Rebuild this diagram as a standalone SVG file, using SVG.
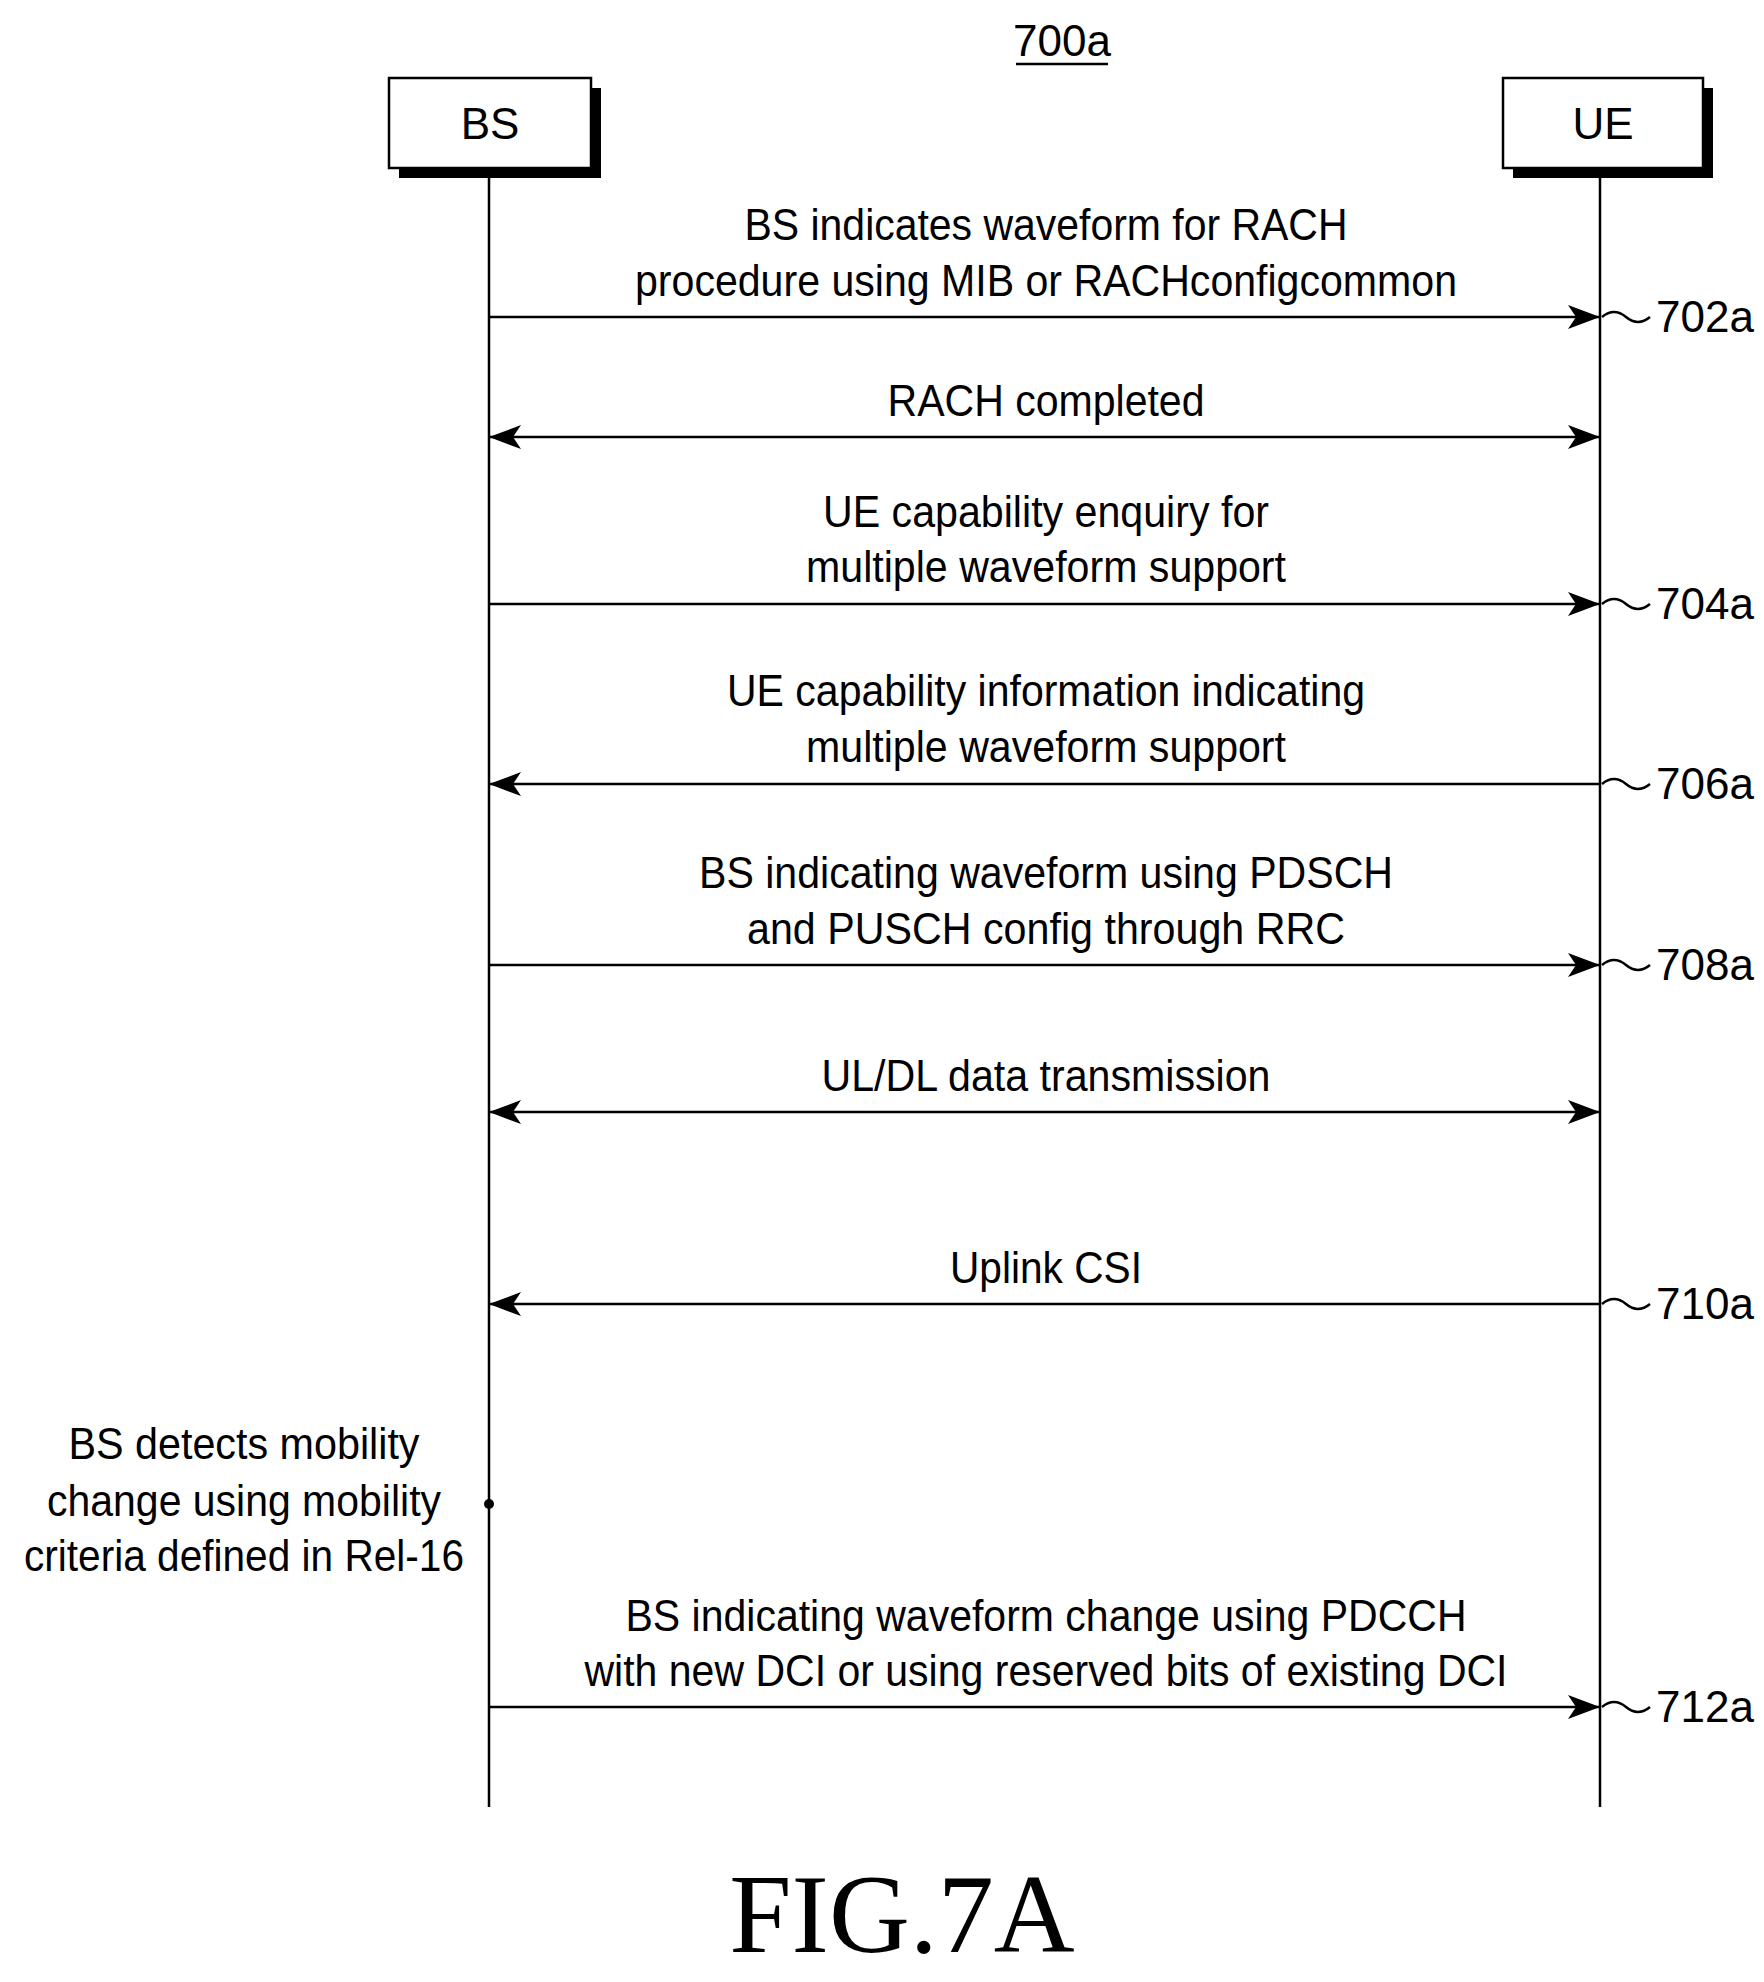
<svg xmlns="http://www.w3.org/2000/svg" width="1764" height="1982" viewBox="0 0 1764 1982">
<style>
text{font-family:"Liberation Sans",Arial,sans-serif;font-size:44px;fill:#000}
.m{text-anchor:middle}
.ln{stroke:#000;stroke-width:2.5;fill:none}
.box{fill:#fff;stroke:#000;stroke-width:2.5}
.sh{fill:#000}
</style>
<defs>
<marker id="ah" markerWidth="34" markerHeight="24" refX="32" refY="12" orient="auto-start-reverse" markerUnits="userSpaceOnUse">
<path d="M0,0 L32,12 L0,24 L8,12 Z" fill="#000"/>
</marker>
</defs>
<rect width="1764" height="1982" fill="#fff"/>
<g id="title">
<text class="m" x="1062" y="56">700a</text>
<line class="ln" x1="1016" y1="64" x2="1108" y2="64"/>
</g>
<g id="BS">
<rect class="sh" x="399" y="88" width="202" height="90"/>
<rect class="box" x="389" y="78" width="202" height="90"/>
<text class="m" x="490" y="139">BS</text>
<line class="ln" x1="489" y1="168" x2="489" y2="1807"/>
</g>
<g id="UE">
<rect class="sh" x="1513" y="88" width="200" height="90"/>
<rect class="box" x="1503" y="78" width="200" height="90"/>
<text class="m" x="1603" y="139">UE</text>
<line class="ln" x1="1600" y1="168" x2="1600" y2="1807"/>
</g>
<g id="connectors">
<line class="ln" x1="489" y1="317" x2="1600" y2="317" marker-end="url(#ah)"/>
<line class="ln" x1="489" y1="437" x2="1600" y2="437" marker-start="url(#ah)" marker-end="url(#ah)"/>
<line class="ln" x1="489" y1="604" x2="1600" y2="604" marker-end="url(#ah)"/>
<line class="ln" x1="1600" y1="784" x2="489" y2="784" marker-end="url(#ah)"/>
<line class="ln" x1="489" y1="965" x2="1600" y2="965" marker-end="url(#ah)"/>
<line class="ln" x1="489" y1="1112" x2="1600" y2="1112" marker-start="url(#ah)" marker-end="url(#ah)"/>
<line class="ln" x1="1600" y1="1304" x2="489" y2="1304" marker-end="url(#ah)"/>
<line class="ln" x1="489" y1="1707" x2="1600" y2="1707" marker-end="url(#ah)"/>
<circle cx="489" cy="1504" r="5" fill="#000"/>
</g>
<g id="refs">
<path class="ln" d="M1602,317 q12,-10 24,0 t24,0"/>
<text x="1656" y="332">702a</text>
<path class="ln" d="M1602,604 q12,-10 24,0 t24,0"/>
<text x="1656" y="619">704a</text>
<path class="ln" d="M1602,784 q12,-10 24,0 t24,0"/>
<text x="1656" y="799">706a</text>
<path class="ln" d="M1602,965 q12,-10 24,0 t24,0"/>
<text x="1656" y="980">708a</text>
<path class="ln" d="M1602,1304 q12,-10 24,0 t24,0"/>
<text x="1656" y="1319">710a</text>
<path class="ln" d="M1602,1707 q12,-10 24,0 t24,0"/>
<text x="1656" y="1722">712a</text>
</g>
<g id="labels">
<text class="m" x="1046" y="240" textLength="603" lengthAdjust="spacingAndGlyphs">BS indicates waveform for RACH</text>
<text class="m" x="1046" y="296" textLength="822" lengthAdjust="spacingAndGlyphs">procedure using MIB or RACHconfigcommon</text>
<text class="m" x="1046" y="416" textLength="317" lengthAdjust="spacingAndGlyphs">RACH completed</text>
<text class="m" x="1046" y="527" textLength="446" lengthAdjust="spacingAndGlyphs">UE capability enquiry for</text>
<text class="m" x="1046" y="582" textLength="480" lengthAdjust="spacingAndGlyphs">multiple waveform support</text>
<text class="m" x="1046" y="706" textLength="638" lengthAdjust="spacingAndGlyphs">UE capability information indicating</text>
<text class="m" x="1046" y="762" textLength="480" lengthAdjust="spacingAndGlyphs">multiple waveform support</text>
<text class="m" x="1046" y="888" textLength="694" lengthAdjust="spacingAndGlyphs">BS indicating waveform using PDSCH</text>
<text class="m" x="1046" y="944" textLength="598" lengthAdjust="spacingAndGlyphs">and PUSCH config through RRC</text>
<text class="m" x="1046" y="1091" textLength="449" lengthAdjust="spacingAndGlyphs">UL/DL data transmission</text>
<text class="m" x="1046" y="1283" textLength="192" lengthAdjust="spacingAndGlyphs">Uplink CSI</text>
<text class="m" x="244" y="1459" textLength="351" lengthAdjust="spacingAndGlyphs">BS detects mobility</text>
<text class="m" x="244" y="1516" textLength="394" lengthAdjust="spacingAndGlyphs">change using mobility</text>
<text class="m" x="244" y="1571" textLength="440" lengthAdjust="spacingAndGlyphs">criteria defined in Rel-16</text>
<text class="m" x="1046" y="1631" textLength="841" lengthAdjust="spacingAndGlyphs">BS indicating waveform change using PDCCH</text>
<text class="m" x="1046" y="1686" textLength="923" lengthAdjust="spacingAndGlyphs">with new DCI or using reserved bits of existing DCI</text>
</g>
<text class="m" x="902" y="1952" style="font-family:'Liberation Serif','Times New Roman',serif;font-size:112px">FIG.7A</text>
</svg>
